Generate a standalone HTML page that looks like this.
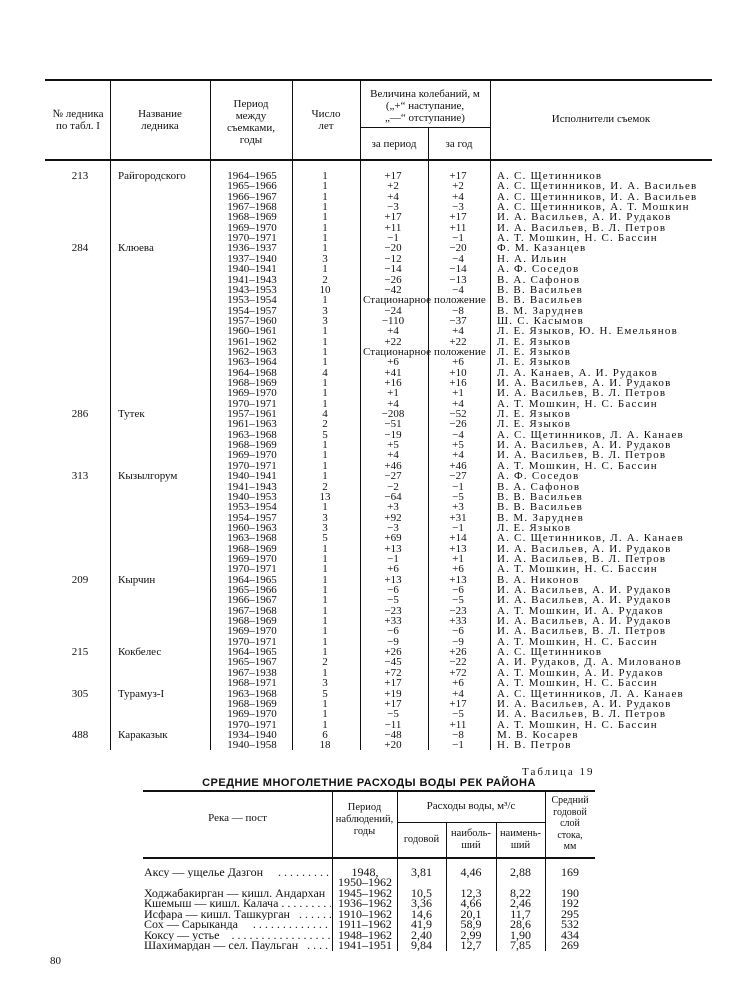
<!DOCTYPE html>
<html><head><meta charset="utf-8"><style>
body{margin:0;background:#fff;}
#p{position:relative;width:729px;height:1000px;background:#fff;color:#111;font-family:"Liberation Serif","Noto Serif CJK SC",serif;font-size:11px;overflow:hidden}
.a{position:absolute;white-space:nowrap;line-height:12px}
.h{position:absolute;background:#111}
.r{position:absolute;left:0;width:729px;height:12px}
.r span{position:absolute;white-space:nowrap;line-height:12px}
.c1{left:60px;width:40px;text-align:center}
.c2{left:118px}
.c3{left:222px;width:60px;text-align:center}
.c4{left:305px;width:40px;text-align:center}
.c5{left:368px;width:50px;text-align:center}
.c6{left:433px;width:50px;text-align:center}
.c7{left:497px;letter-spacing:1.2px}
.st{left:363px;letter-spacing:0.1px}
.b span{position:absolute;white-space:nowrap;line-height:12px;font-size:12px}
.d1{left:144px;width:187px;overflow:hidden}
.d2{left:333px;width:64px;text-align:center}
.d3{left:397px;width:49px;text-align:center}
.d4{left:446px;width:50px;text-align:center}
.d5{left:496px;width:49px;text-align:center}
.d6{left:545px;width:50px;text-align:center}
</style></head><body><div id="p">
<div class="h" style="left:45px;top:79px;width:667px;height:2px"></div>
<div class="h" style="left:45px;top:159px;width:667px;height:2px"></div>
<div class="h" style="left:360px;top:127px;width:130px;height:1px"></div>
<div class="h" style="left:110px;top:80px;width:1px;height:670px"></div>
<div class="h" style="left:210px;top:80px;width:1px;height:670px"></div>
<div class="h" style="left:292px;top:80px;width:1px;height:670px"></div>
<div class="h" style="left:360px;top:80px;width:1px;height:670px"></div>
<div class="h" style="left:428px;top:127px;width:1px;height:623px"></div>
<div class="h" style="left:490px;top:80px;width:1px;height:670px"></div>
<div class="a" style="left:46px;top:108px;width:64px;text-align:center">№ ледника<br>по табл. I</div>
<div class="a" style="left:110px;top:108px;width:100px;text-align:center">Название<br>ледника</div>
<div class="a" style="left:210px;top:98px;width:82px;text-align:center">Период<br>между<br>съемками,<br>годы</div>
<div class="a" style="left:292px;top:108px;width:68px;text-align:center">Число<br>лет</div>
<div class="a" style="left:360px;top:88px;width:130px;text-align:center">Величина колебаний, м<br>(„+“ наступание,<br>„—“ отступание)</div>
<div class="a" style="left:360px;top:138px;width:68px;text-align:center">за период</div>
<div class="a" style="left:428px;top:138px;width:62px;text-align:center">за год</div>
<div class="a" style="left:490px;top:113px;width:222px;text-align:center">Исполнители съемок</div>

<div class="r" style="top:170px"><span class="c1">213</span><span class="c2">Райгородского</span><span class="c3">1964–1965</span><span class="c4">1</span><span class="c5">+17</span><span class="c6">+17</span><span class="c7">А. С. Щетинников</span></div>
<div class="r" style="top:180.4px"><span class="c3">1965–1966</span><span class="c4">1</span><span class="c5">+2</span><span class="c6">+2</span><span class="c7">А. С. Щетинников, И. А. Васильев</span></div>
<div class="r" style="top:190.7px"><span class="c3">1966–1967</span><span class="c4">1</span><span class="c5">+4</span><span class="c6">+4</span><span class="c7">А. С. Щетинников, И. А. Васильев</span></div>
<div class="r" style="top:201px"><span class="c3">1967–1968</span><span class="c4">1</span><span class="c5">−3</span><span class="c6">−3</span><span class="c7">А. С. Щетинников, А. Т. Мошкин</span></div>
<div class="r" style="top:211.4px"><span class="c3">1968–1969</span><span class="c4">1</span><span class="c5">+17</span><span class="c6">+17</span><span class="c7">И. А. Васильев, А. И. Рудаков</span></div>
<div class="r" style="top:221.7px"><span class="c3">1969–1970</span><span class="c4">1</span><span class="c5">+11</span><span class="c6">+11</span><span class="c7">И. А. Васильев, В. Л. Петров</span></div>
<div class="r" style="top:232.1px"><span class="c3">1970–1971</span><span class="c4">1</span><span class="c5">−1</span><span class="c6">−1</span><span class="c7">А. Т. Мошкин, Н. С. Бассин</span></div>
<div class="r" style="top:242.4px"><span class="c1">284</span><span class="c2">Клюева</span><span class="c3">1936–1937</span><span class="c4">1</span><span class="c5">−20</span><span class="c6">−20</span><span class="c7">Ф. М. Казанцев</span></div>
<div class="r" style="top:252.8px"><span class="c3">1937–1940</span><span class="c4">3</span><span class="c5">−12</span><span class="c6">−4</span><span class="c7">Н. А. Ильин</span></div>
<div class="r" style="top:263.1px"><span class="c3">1940–1941</span><span class="c4">1</span><span class="c5">−14</span><span class="c6">−14</span><span class="c7">А. Ф. Соседов</span></div>
<div class="r" style="top:273.5px"><span class="c3">1941–1943</span><span class="c4">2</span><span class="c5">−26</span><span class="c6">−13</span><span class="c7">В. А. Сафонов</span></div>
<div class="r" style="top:283.8px"><span class="c3">1943–1953</span><span class="c4">10</span><span class="c5">−42</span><span class="c6">−4</span><span class="c7">В. В. Васильев</span></div>
<div class="r" style="top:294.2px"><span class="c3">1953–1954</span><span class="c4">1</span><span class="st">Стационарное положение</span><span class="c7">В. В. Васильев</span></div>
<div class="r" style="top:304.5px"><span class="c3">1954–1957</span><span class="c4">3</span><span class="c5">−24</span><span class="c6">−8</span><span class="c7">В. М. Заруднев</span></div>
<div class="r" style="top:314.9px"><span class="c3">1957–1960</span><span class="c4">3</span><span class="c5">−110</span><span class="c6">−37</span><span class="c7">Ш. С. Касымов</span></div>
<div class="r" style="top:325.2px"><span class="c3">1960–1961</span><span class="c4">1</span><span class="c5">+4</span><span class="c6">+4</span><span class="c7">Л. Е. Языков, Ю. Н. Емельянов</span></div>
<div class="r" style="top:335.6px"><span class="c3">1961–1962</span><span class="c4">1</span><span class="c5">+22</span><span class="c6">+22</span><span class="c7">Л. Е. Языков</span></div>
<div class="r" style="top:345.9px"><span class="c3">1962–1963</span><span class="c4">1</span><span class="st">Стационарное положение</span><span class="c7">Л. Е. Языков</span></div>
<div class="r" style="top:356.3px"><span class="c3">1963–1964</span><span class="c4">1</span><span class="c5">+6</span><span class="c6">+6</span><span class="c7">Л. Е. Языков</span></div>
<div class="r" style="top:366.6px"><span class="c3">1964–1968</span><span class="c4">4</span><span class="c5">+41</span><span class="c6">+10</span><span class="c7">Л. А. Канаев, А. И. Рудаков</span></div>
<div class="r" style="top:377px"><span class="c3">1968–1969</span><span class="c4">1</span><span class="c5">+16</span><span class="c6">+16</span><span class="c7">И. А. Васильев, А. И. Рудаков</span></div>
<div class="r" style="top:387.3px"><span class="c3">1969–1970</span><span class="c4">1</span><span class="c5">+1</span><span class="c6">+1</span><span class="c7">И. А. Васильев, В. Л. Петров</span></div>
<div class="r" style="top:397.7px"><span class="c3">1970–1971</span><span class="c4">1</span><span class="c5">+4</span><span class="c6">+4</span><span class="c7">А. Т. Мошкин, Н. С. Бассин</span></div>
<div class="r" style="top:408px"><span class="c1">286</span><span class="c2">Тутек</span><span class="c3">1957–1961</span><span class="c4">4</span><span class="c5">−208</span><span class="c6">−52</span><span class="c7">Л. Е. Языков</span></div>
<div class="r" style="top:418.4px"><span class="c3">1961–1963</span><span class="c4">2</span><span class="c5">−51</span><span class="c6">−26</span><span class="c7">Л. Е. Языков</span></div>
<div class="r" style="top:428.7px"><span class="c3">1963–1968</span><span class="c4">5</span><span class="c5">−19</span><span class="c6">−4</span><span class="c7">А. С. Щетинников, Л. А. Канаев</span></div>
<div class="r" style="top:439.1px"><span class="c3">1968–1969</span><span class="c4">1</span><span class="c5">+5</span><span class="c6">+5</span><span class="c7">И. А. Васильев, А. И. Рудаков</span></div>
<div class="r" style="top:449.4px"><span class="c3">1969–1970</span><span class="c4">1</span><span class="c5">+4</span><span class="c6">+4</span><span class="c7">И. А. Васильев, В. Л. Петров</span></div>
<div class="r" style="top:459.8px"><span class="c3">1970–1971</span><span class="c4">1</span><span class="c5">+46</span><span class="c6">+46</span><span class="c7">А. Т. Мошкин, Н. С. Бассин</span></div>
<div class="r" style="top:470.1px"><span class="c1">313</span><span class="c2">Кызылгорум</span><span class="c3">1940–1941</span><span class="c4">1</span><span class="c5">−27</span><span class="c6">−27</span><span class="c7">А. Ф. Соседов</span></div>
<div class="r" style="top:480.5px"><span class="c3">1941–1943</span><span class="c4">2</span><span class="c5">−2</span><span class="c6">−1</span><span class="c7">В. А. Сафонов</span></div>
<div class="r" style="top:490.8px"><span class="c3">1940–1953</span><span class="c4">13</span><span class="c5">−64</span><span class="c6">−5</span><span class="c7">В. В. Васильев</span></div>
<div class="r" style="top:501.2px"><span class="c3">1953–1954</span><span class="c4">1</span><span class="c5">+3</span><span class="c6">+3</span><span class="c7">В. В. Васильев</span></div>
<div class="r" style="top:511.5px"><span class="c3">1954–1957</span><span class="c4">3</span><span class="c5">+92</span><span class="c6">+31</span><span class="c7">В. М. Заруднев</span></div>
<div class="r" style="top:521.9px"><span class="c3">1960–1963</span><span class="c4">3</span><span class="c5">−3</span><span class="c6">−1</span><span class="c7">Л. Е. Языков</span></div>
<div class="r" style="top:532.2px"><span class="c3">1963–1968</span><span class="c4">5</span><span class="c5">+69</span><span class="c6">+14</span><span class="c7">А. С. Щетинников, Л. А. Канаев</span></div>
<div class="r" style="top:542.6px"><span class="c3">1968–1969</span><span class="c4">1</span><span class="c5">+13</span><span class="c6">+13</span><span class="c7">И. А. Васильев, А. И. Рудаков</span></div>
<div class="r" style="top:552.9px"><span class="c3">1969–1970</span><span class="c4">1</span><span class="c5">−1</span><span class="c6">+1</span><span class="c7">И. А. Васильев, В. Л. Петров</span></div>
<div class="r" style="top:563.3px"><span class="c3">1970–1971</span><span class="c4">1</span><span class="c5">+6</span><span class="c6">+6</span><span class="c7">А. Т. Мошкин, Н. С. Бассин</span></div>
<div class="r" style="top:573.6px"><span class="c1">209</span><span class="c2">Кырчин</span><span class="c3">1964–1965</span><span class="c4">1</span><span class="c5">+13</span><span class="c6">+13</span><span class="c7">В. А. Никонов</span></div>
<div class="r" style="top:584px"><span class="c3">1965–1966</span><span class="c4">1</span><span class="c5">−6</span><span class="c6">−6</span><span class="c7">И. А. Васильев, А. И. Рудаков</span></div>
<div class="r" style="top:594.3px"><span class="c3">1966–1967</span><span class="c4">1</span><span class="c5">−5</span><span class="c6">−5</span><span class="c7">И. А. Васильев, А. И. Рудаков</span></div>
<div class="r" style="top:604.7px"><span class="c3">1967–1968</span><span class="c4">1</span><span class="c5">−23</span><span class="c6">−23</span><span class="c7">А. Т. Мошкин, И. А. Рудаков</span></div>
<div class="r" style="top:615px"><span class="c3">1968–1969</span><span class="c4">1</span><span class="c5">+33</span><span class="c6">+33</span><span class="c7">И. А. Васильев, А. И. Рудаков</span></div>
<div class="r" style="top:625.4px"><span class="c3">1969–1970</span><span class="c4">1</span><span class="c5">−6</span><span class="c6">−6</span><span class="c7">И. А. Васильев, В. Л. Петров</span></div>
<div class="r" style="top:635.7px"><span class="c3">1970–1971</span><span class="c4">1</span><span class="c5">−9</span><span class="c6">−9</span><span class="c7">А. Т. Мошкин, Н. С. Бассин</span></div>
<div class="r" style="top:646.1px"><span class="c1">215</span><span class="c2">Кокбелес</span><span class="c3">1964–1965</span><span class="c4">1</span><span class="c5">+26</span><span class="c6">+26</span><span class="c7">А. С. Щетинников</span></div>
<div class="r" style="top:656.4px"><span class="c3">1965–1967</span><span class="c4">2</span><span class="c5">−45</span><span class="c6">−22</span><span class="c7">А. И. Рудаков, Д. А. Милованов</span></div>
<div class="r" style="top:666.8px"><span class="c3">1967–1938</span><span class="c4">1</span><span class="c5">+72</span><span class="c6">+72</span><span class="c7">А. Т. Мошкин, А. И. Рудаков</span></div>
<div class="r" style="top:677.1px"><span class="c3">1968–1971</span><span class="c4">3</span><span class="c5">+17</span><span class="c6">+6</span><span class="c7">А. Т. Мошкин, Н. С. Бассин</span></div>
<div class="r" style="top:687.5px"><span class="c1">305</span><span class="c2">Турамуз-I</span><span class="c3">1963–1968</span><span class="c4">5</span><span class="c5">+19</span><span class="c6">+4</span><span class="c7">А. С. Щетинников, Л. А. Канаев</span></div>
<div class="r" style="top:697.8px"><span class="c3">1968–1969</span><span class="c4">1</span><span class="c5">+17</span><span class="c6">+17</span><span class="c7">И. А. Васильев, А. И. Рудаков</span></div>
<div class="r" style="top:708.2px"><span class="c3">1969–1970</span><span class="c4">1</span><span class="c5">−5</span><span class="c6">−5</span><span class="c7">И. А. Васильев, В. Л. Петров</span></div>
<div class="r" style="top:718.5px"><span class="c3">1970–1971</span><span class="c4">1</span><span class="c5">−11</span><span class="c6">+11</span><span class="c7">А. Т. Мошкин, Н. С. Бассин</span></div>
<div class="r" style="top:728.9px"><span class="c1">488</span><span class="c2">Караказык</span><span class="c3">1934–1940</span><span class="c4">6</span><span class="c5">−48</span><span class="c6">−8</span><span class="c7">М. В. Косарев</span></div>
<div class="r" style="top:739.2px"><span class="c3">1940–1958</span><span class="c4">18</span><span class="c5">+20</span><span class="c6">−1</span><span class="c7">Н. В. Петров</span></div>

<div class="a" style="left:522px;top:766px;letter-spacing:2px">Таблица 19</div>
<div class="a" style="left:143px;top:777px;width:452px;text-align:center;font-family:'Liberation Sans',sans-serif;font-weight:bold;font-size:11px;letter-spacing:0.5px">СРЕДНИЕ МНОГОЛЕТНИЕ РАСХОДЫ ВОДЫ РЕК РАЙОНА</div>
<div class="h" style="left:143px;top:790px;width:452px;height:2px"></div>
<div class="h" style="left:143px;top:857px;width:452px;height:2px"></div>
<div class="h" style="left:397px;top:822px;width:148px;height:1px"></div>
<div class="h" style="left:332px;top:792px;width:1px;height:159px"></div>
<div class="h" style="left:397px;top:792px;width:1px;height:159px"></div>
<div class="h" style="left:446px;top:823px;width:1px;height:128px"></div>
<div class="h" style="left:496px;top:823px;width:1px;height:128px"></div>
<div class="h" style="left:545px;top:792px;width:1px;height:159px"></div>
<div class="a" style="left:143px;top:812px;width:189px;text-align:center">Река — пост</div>
<div class="a" style="left:332px;top:802px;width:65px;text-align:center;font-size:10.5px">Период<br>наблюдений,<br>годы</div>
<div class="a" style="left:397px;top:800px;width:148px;text-align:center">Расходы воды, м³/с</div>
<div class="a" style="left:397px;top:834px;width:49px;text-align:center;font-size:10.5px">годовой</div>
<div class="a" style="left:446px;top:828px;width:50px;text-align:center;font-size:10.5px">наиболь-<br>ший</div>
<div class="a" style="left:496px;top:828px;width:49px;text-align:center;font-size:10.5px">наимень-<br>ший</div>
<div class="a" style="left:545px;top:795px;width:50px;text-align:center;font-size:10px;line-height:11.5px">Средний<br>годовой<br>слой<br>стока,<br>мм</div>

<div class="r b" style="top:866px"><span class="d1">Аксу — ущелье Дазгон&nbsp;&nbsp;&nbsp;&nbsp; . . . . . . . . . . . . . .</span><span class="d2">1948,</span><span class="d3">3,81</span><span class="d4">4,46</span><span class="d5">2,88</span><span class="d6">169</span></div>
<div class="r b" style="top:876px"><span class="d2">1950–1962</span></div>
<div class="r b" style="top:887px"><span class="d1">Ходжабакирган — кишл. Андархан</span><span class="d2">1945–1962</span><span class="d3">10,5</span><span class="d4">12,3</span><span class="d5">8,22</span><span class="d6">190</span></div>
<div class="r b" style="top:897.4px"><span class="d1">Кшемыш — кишл. Калача . . . . . . . . . . . .</span><span class="d2">1936–1962</span><span class="d3">3,36</span><span class="d4">4,66</span><span class="d5">2,46</span><span class="d6">192</span></div>
<div class="r b" style="top:907.8px"><span class="d1">Исфара — кишл. Ташкурган&nbsp;&nbsp; . . . . . . . . .</span><span class="d2">1910–1962</span><span class="d3">14,6</span><span class="d4">20,1</span><span class="d5">11,7</span><span class="d6">295</span></div>
<div class="r b" style="top:918.2px"><span class="d1">Сох — Сарыканда&nbsp;&nbsp;&nbsp;&nbsp; . . . . . . . . . . . . . . .</span><span class="d2">1911–1962</span><span class="d3">41,9</span><span class="d4">58,9</span><span class="d5">28,6</span><span class="d6">532</span></div>
<div class="r b" style="top:928.6px"><span class="d1">Коксу — устье&nbsp;&nbsp;&nbsp; . . . . . . . . . . . . . . . . .</span><span class="d2">1948–1962</span><span class="d3">2,40</span><span class="d4">2,99</span><span class="d5">1,90</span><span class="d6">434</span></div>
<div class="r b" style="top:939px"><span class="d1">Шахимардан — сел. Паульган&nbsp;&nbsp; . . . . . .</span><span class="d2">1941–1951</span><span class="d3">9,84</span><span class="d4">12,7</span><span class="d5">7,85</span><span class="d6">269</span></div>
<div class="a" style="left:50px;top:955px">80</div>
</div></body></html>
